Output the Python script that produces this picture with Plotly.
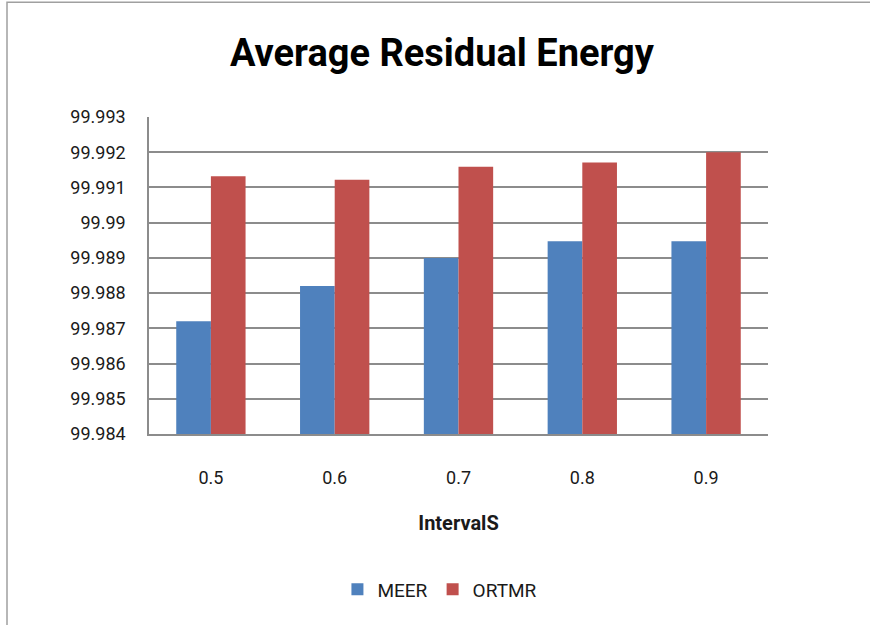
import plotly.graph_objects as go

# Data
intervals = ["0.5", "0.6", "0.7", "0.8", "0.9"]
meer = [99.9872, 99.9882, 99.9890, 99.98947, 99.98947]
ortmr = [99.99132, 99.99122, 99.99159, 99.99171, 99.9920]
y_ticks = [99.984, 99.985, 99.986, 99.987, 99.988, 99.989, 99.990, 99.991, 99.992, 99.993]
y_tick_text = ["99.984", "99.985", "99.986", "99.987", "99.988", "99.989", "99.99", "99.991", "99.992", "99.993"]

FONT = "Roboto, Arial, sans-serif"
TEXT = "#1a1a1a"

fig = go.Figure()
fig.add_trace(go.Bar(name="MEER", x=intervals, y=meer,
                     marker=dict(color="#4F81BD", line=dict(width=0))))
fig.add_trace(go.Bar(name="ORTMR", x=intervals, y=ortmr,
                     marker=dict(color="#C0504D", line=dict(width=0))))

fig.update_layout(
    width=870, height=625,
    margin=dict(l=149, r=102, t=117, b=191),
    paper_bgcolor="white", plot_bgcolor="white",
    barmode="group", bargap=0.44, bargroupgap=0,
    showlegend=True,
    title=dict(text="<b>Average Residual Energy</b>", x=0.508, xanchor="center",
               y=0.915, yanchor="middle",
               font=dict(family=FONT, size=38, color="black")),
    legend=dict(orientation="h", x=0.47, xanchor="center", y=-0.49, yanchor="middle",
                font=dict(family=FONT, size=19, color=TEXT),
                itemwidth=30, traceorder="normal"),
    xaxis=dict(
        title=dict(text="<b>IntervalS</b>", font=dict(family=FONT, size=20, color=TEXT), standoff=29),
        tickfont=dict(family=FONT, size=18, color=TEXT),
        showline=True, linecolor="#8C8C8C", linewidth=1.5,
        ticks="", ticklabelstandoff=27, showgrid=False,
    ),
    yaxis=dict(
        range=[99.984, 99.993],
        tickvals=y_ticks, ticktext=y_tick_text,
        tickfont=dict(family=FONT, size=18, color=TEXT),
        showgrid=True, gridcolor="#8C8C8C", gridwidth=1.5,
        showline=True, linecolor="#8C8C8C", linewidth=1.5,
        ticks="", ticklabelstandoff=18, zeroline=False,
    ),
    shapes=[dict(type="rect", xref="paper", yref="paper",
                 x0=-0.2294, x1=1.25, y0=-0.62, y1=1.362,
                 line=dict(color="#A0A0A0", width=1.5))],
)

fig.write_html("out.html")
